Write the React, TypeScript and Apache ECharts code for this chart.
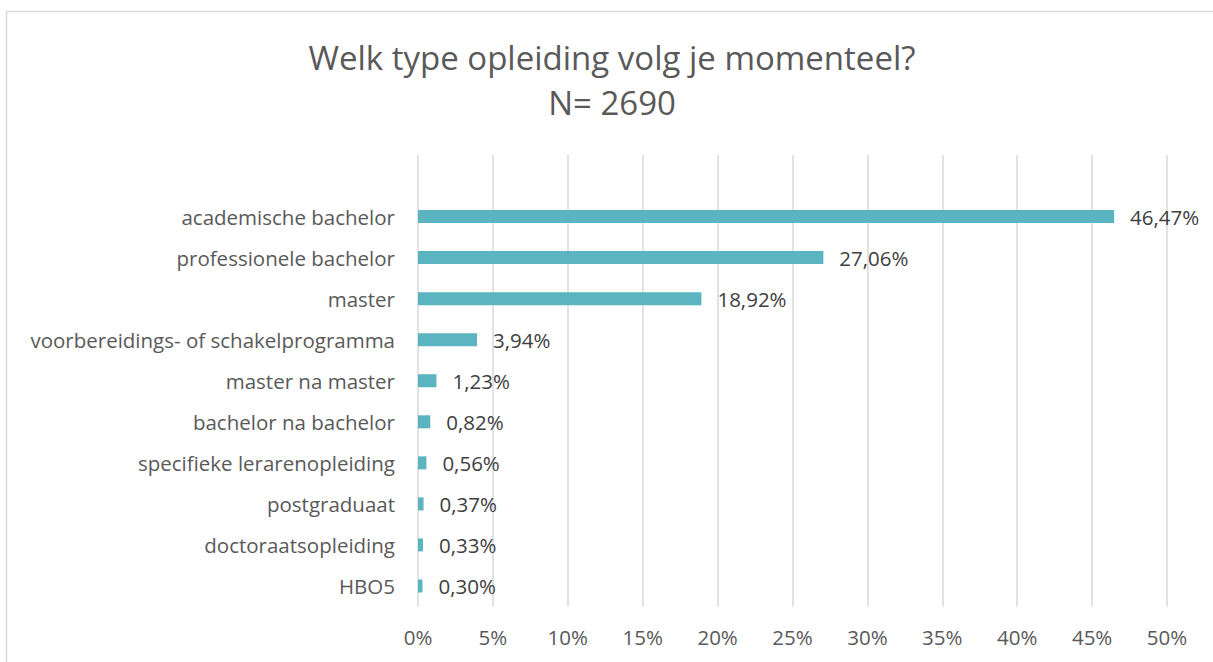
import React, { useEffect, useRef } from "react";
import * as echarts from "echarts";

const categories = [
  "academische bachelor",
  "professionele bachelor",
  "master",
  "voorbereidings- of schakelprogramma",
  "master na master",
  "bachelor na bachelor",
  "specifieke lerarenopleiding",
  "postgraduaat",
  "doctoraatsopleiding",
  "HBO5",
];
const values = [46.47, 27.06, 18.92, 3.94, 1.23, 0.82, 0.56, 0.37, 0.33, 0.3];
const titleLines = ["Welk type opleiding volg je momenteel?", "N= 2690"];

export default function App() {
  const ref = useRef<HTMLDivElement>(null);
  useEffect(() => {
    document.body.style.margin = "0";
    const chart = echarts.init(ref.current!, null, { renderer: "svg" });
    const font = "'Open Sans', 'Noto Sans', sans-serif";
    chart.setOption({
      animation: false,
      backgroundColor: "#ffffff",
      textStyle: { fontFamily: font },
      graphic: [
        {
          type: "rect",
          shape: { x: 6.5, y: 11.5, width: 1220, height: 700 },
          style: { fill: "none", stroke: "#d9d9d9", lineWidth: 1.5 },
          silent: true,
        },
        ...titleLines.map((t, i) => ({
          type: "text",
          x: 612,
          y: 57 + i * 45,
          silent: true,
          style: {
            text: t,
            fill: "#595959",
            fontSize: 33,
            fontFamily: font,
            align: "center",
            verticalAlign: "middle",
          },
        })),
      ],
      grid: { left: 418, right: 46, top: 155, bottom: 55.5 },
      xAxis: {
        type: "value",
        min: 0,
        max: 50,
        interval: 5,
        axisLine: { show: false },
        axisTick: { show: false },
        axisLabel: {
          formatter: "{value}%",
          color: "#595959",
          fontSize: 20.5,
          margin: 20,
          fontFamily: font,
        },
        splitLine: { show: true, lineStyle: { color: "#d9d9d9", width: 1.5 } },
      },
      yAxis: {
        type: "category",
        inverse: true,
        data: ["", ...categories],
        axisLine: { show: false },
        axisTick: { show: false },
        axisLabel: {
          color: "#595959",
          fontSize: 20.5,
          margin: 23,
          fontFamily: font,
        },
      },
      series: [
        {
          type: "bar",
          data: [null, ...values],
          barWidth: 13,
          itemStyle: { color: "#5ab5c0" },
          label: {
            show: true,
            position: "right",
            distance: 16,
            color: "#404040",
            fontSize: 20.5,
            fontFamily: font,
            formatter: (p: any) =>
              p.value == null ? "" : p.value.toFixed(2).replace(".", ",") + "%",
          },
        },
      ],
    });
    return () => chart.dispose();
  }, []);
  return <div ref={ref} style={{ width: 1213, height: 662 }} />;
}
